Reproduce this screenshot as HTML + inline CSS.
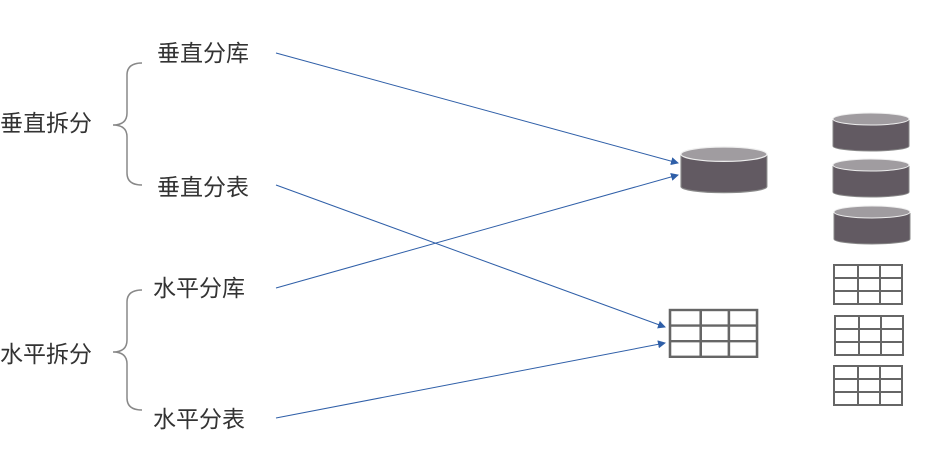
<!DOCTYPE html>
<html><head><meta charset="utf-8"><style>
body{margin:0;background:#fff;width:933px;height:450px;overflow:hidden}
</style></head><body>
<svg width="933" height="450" xmlns="http://www.w3.org/2000/svg" font-family="Liberation Sans, Noto Sans CJK SC, sans-serif">
<defs>
<marker id="a" markerWidth="8" markerHeight="8" refX="7" refY="4" orient="auto" markerUnits="userSpaceOnUse"><path d="M0,0 L8,4 L0,8 Z" fill="#2f5fa8"/></marker>
<g id="cyl">
<path d="M0,7 L0,33 A38,5 0 0 0 76,33 L76,7" fill="#625a62" stroke="#888" stroke-width="1"/>
<ellipse cx="38" cy="6" rx="38" ry="6" fill="#a09ca0" stroke="#eee" stroke-width="1"/>
</g>
<g id="tbl" fill="none" stroke="#666" stroke-width="2">
<rect x="0" y="0" width="68" height="39"/>
<line x1="0" y1="13" x2="68" y2="13"/><line x1="0" y1="26" x2="68" y2="26"/>
<line x1="24" y1="0" x2="24" y2="39"/><line x1="46" y1="0" x2="46" y2="39"/>
</g>
</defs>
<g font-size="23" fill="#333">
<text x="157" y="61">垂直分库</text>
<text x="157" y="195">垂直分表</text>
<text x="0" y="131">垂直拆分</text>
<text x="153" y="296">水平分库</text>
<text x="153" y="427">水平分表</text>
<text x="0" y="362">水平拆分</text>
</g>
<g fill="none" stroke="#888" stroke-width="1.5">
<path d="M142,63 Q127,63 127,75 L127,113 Q127,125 113,125 Q127,125 127,137 L127,173 Q127,185 142,185"/>
<path d="M142,290 Q127,290 127,302 L127,340 Q127,352 113,352 Q127,352 127,364 L127,398 Q127,410 142,410"/>
</g>
<g stroke="#2f5fa8" stroke-width="1" marker-end="url(#a)">
<line x1="276" y1="53" x2="678" y2="163"/>
<line x1="276" y1="185" x2="665" y2="327"/>
<line x1="276" y1="288" x2="678" y2="175"/>
<line x1="276" y1="418" x2="665" y2="343"/>
</g>
<g transform="translate(681,147) scale(1.13,1.2)"><use href="#cyl"/></g>
<use href="#cyl" x="833" y="113"/>
<use href="#cyl" x="833" y="159"/>
<use href="#cyl" x="834" y="206"/>
<g transform="translate(670,310) scale(1.28,1.2)"><use href="#tbl" /></g>
<use href="#tbl" x="834" y="265"/>
<use href="#tbl" x="835" y="316"/>
<use href="#tbl" x="834" y="366"/>
</svg>
</body></html>
